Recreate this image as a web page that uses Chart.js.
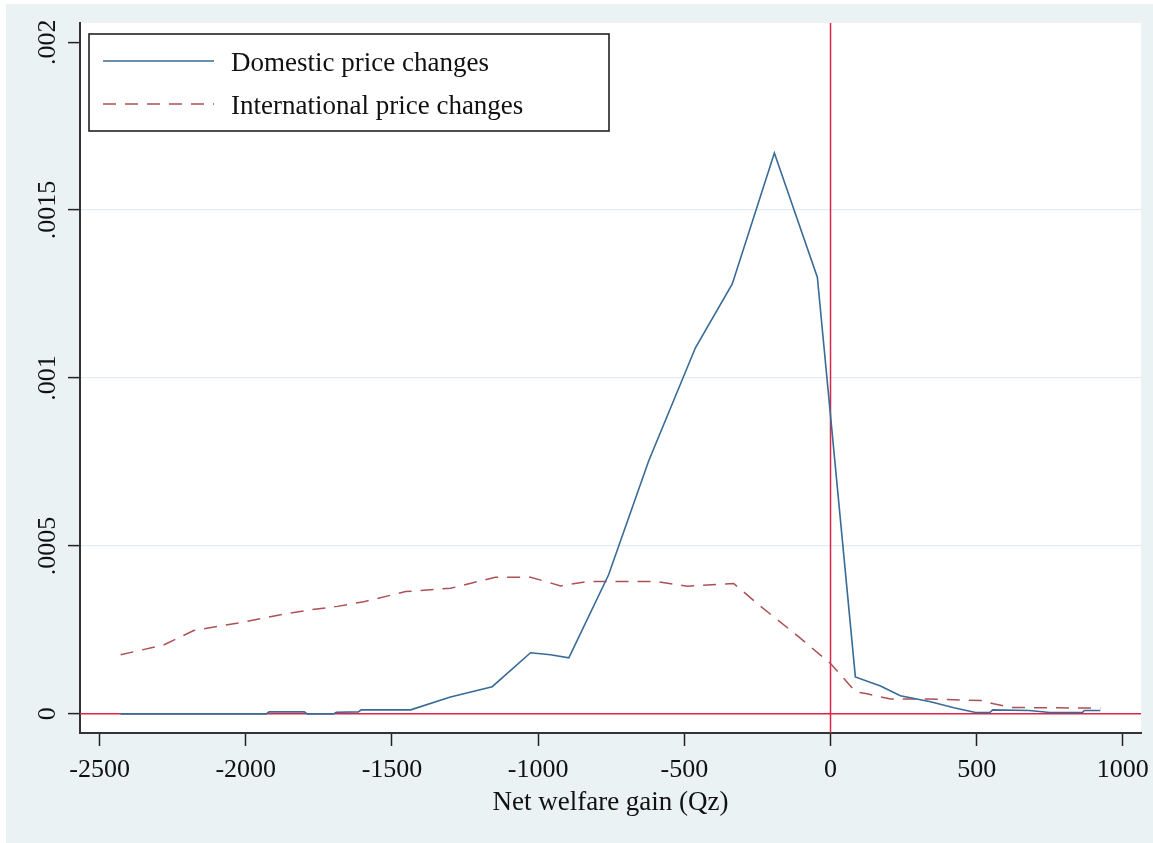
<!DOCTYPE html>
<html lang="en">
<head>
  <meta charset="UTF-8" />
  <title>Net welfare gain densities</title>
  <script src="https://cdn.jsdelivr.net/npm/chart.js"></script>
  <style>
    html, body {
      margin: 0;
      padding: 0;
      background: #ffffff;
      overflow: hidden;
    }
    canvas {
      display: block;
    }
  </style>
</head>
<body>
  <canvas id="welfareChart" width="1153" height="843"></canvas>

  <script>
    // Domestic price changes (solid blue)
    const domesticX = [-2428, -1930, -1920, -1800, -1790, -1700, -1690, -1615, -1605, -1436,
      -1300, -1157, -1026, -958, -895, -759, -622, -462, -336, -192,
      -45, 85, 171, 239, 342, 422, 496, 545, 555, 680,
      750, 862, 868, 923];
    const domesticY = [0, 0, 0.000006, 0.000006, 0, 0, 0.000005, 0.000006, 0.000012, 0.000012,
      0.00005, 0.000081, 0.000182, 0.000176, 0.000167, 0.000414, 0.000753, 0.00109, 0.00128, 0.00167,
      0.0013, 0.00011, 0.000083, 0.000054, 0.000036, 0.000018, 0.000004, 0.000004, 0.000012, 0.00001,
      0.000004, 0.000004, 0.00001, 0.00001];

    // International price changes (dashed red)
    const internationalX = [-2428, -2281, -2178, -2030, -1881, -1778, -1687, -1596, -1453, -1299,
      -1146, -1026, -923, -832, -593, -490, -331, -239, -125, 0,
      85, 125, 205, 331, 513, 558, 616, 923];
    const internationalY = [0.000176, 0.000205, 0.000248, 0.00027, 0.000295, 0.00031, 0.00032, 0.000334, 0.000364, 0.000374,
      0.000407, 0.000407, 0.000381, 0.000394, 0.000394, 0.00038, 0.000388, 0.00032, 0.000241, 0.00015,
      0.000066, 0.00006, 0.000044, 0.000044, 0.00004, 0.00003, 0.000019, 0.000017];

    const xTicks = [-2500, -2000, -1500, -1000, -500, 0, 500, 1000];
    const yTicks = [0, 0.0005, 0.001, 0.0015, 0.002];
    const yTickLabels = ['0', '.0005', '.001', '.0015', '.002'];

    const seriesNames = ['Domestic price changes', 'International price changes'];
    const xTitle = 'Net welfare gain (Qz)';

    // reference lines (xline / yline)
    const refX = 0;
    const refY = 0;

    const BLUE = '#386b97';
    const RED = '#ad5055';
    const REF = '#dc2449';
    const FONT = "'Liberation Serif', 'Times New Roman', serif";

    const toPoints = (xs, ys) => xs.map((x, i) => ({ x: x, y: ys[i] }));

    // outer background + white plot region
    const backgroundPlugin = {
      id: 'stataBackground',
      beforeDraw(chart) {
        const ctx = chart.ctx;
        const a = chart.chartArea;
        ctx.save();
        ctx.fillStyle = '#eaf2f3';
        ctx.fillRect(6, 4, chart.width - 6, chart.height - 4);
        ctx.fillStyle = '#ffffff';
        ctx.fillRect(a.left, a.top, a.right - a.left, a.bottom - a.top);
        ctx.restore();
      }
    };

    // red lines at x = 0 and y = 0, under the data
    const refLinePlugin = {
      id: 'refLines',
      beforeDatasetsDraw(chart) {
        const ctx = chart.ctx;
        const a = chart.chartArea;
        const px = chart.scales.x.getPixelForValue(refX);
        const py = chart.scales.y.getPixelForValue(refY);
        ctx.save();
        ctx.strokeStyle = REF;
        ctx.lineWidth = 1.5;
        ctx.beginPath();
        ctx.moveTo(a.left, py);
        ctx.lineTo(a.right, py);
        ctx.moveTo(px, a.top);
        ctx.lineTo(px, a.bottom);
        ctx.stroke();
        ctx.restore();
      }
    };

    // boxed legend inside the plot, top left
    const boxLegendPlugin = {
      id: 'boxLegend',
      afterDraw(chart) {
        const ctx = chart.ctx;
        const a = chart.chartArea;
        const left = a.left + 9, top = a.top + 11;
        const w = 520, h = 97;
        ctx.save();
        ctx.fillStyle = '#ffffff';
        ctx.fillRect(left, top, w, h);
        ctx.strokeStyle = '#222222';
        ctx.lineWidth = 1.6;
        ctx.strokeRect(left, top, w, h);

        chart.data.datasets.forEach((ds, i) => {
          const y = top + 27 + i * 43;
          ctx.strokeStyle = ds.borderColor;
          ctx.lineWidth = ds.borderWidth;
          ctx.setLineDash(ds.borderDash || []);
          ctx.beginPath();
          ctx.moveTo(left + 14, y);
          ctx.lineTo(left + 125, y);
          ctx.stroke();
          ctx.setLineDash([]);
          ctx.fillStyle = '#111111';
          ctx.font = '27px ' + FONT;
          ctx.textBaseline = 'middle';
          ctx.fillText(ds.label, left + 142, y + 3);
        });
        ctx.restore();
      }
    };

    const ctx = document.getElementById('welfareChart').getContext('2d');
    new Chart(ctx, {
      type: 'line',
      data: {
        datasets: [{
          label: seriesNames[0],
          data: toPoints(domesticX, domesticY),
          borderColor: BLUE,
          borderWidth: 1.6,
          pointRadius: 0,
          tension: 0,
          fill: false
        }, {
          label: seriesNames[1],
          data: toPoints(internationalX, internationalY),
          borderColor: RED,
          borderWidth: 1.5,
          borderDash: [13, 9],
          pointRadius: 0,
          tension: 0,
          fill: false
        }]
      },
      options: {
        responsive: false,
        animation: false,
        layout: {
          padding: { left: 6, top: 23, right: 12, bottom: 0 }
        },
        scales: {
          x: {
            type: 'linear',
            min: -2567,
            max: 1062,
            afterBuildTicks: s => { s.ticks = xTicks.map(v => ({ value: v })); },
            afterFit: s => {
              s.height = 110;
              s.paddingLeft = 0;
              s.paddingRight = 0;
            },
            border: { display: true, color: '#333333', width: 2 },
            grid: {
              drawOnChartArea: false,
              drawTicks: true,
              tickLength: 13,
              tickColor: '#222222',
              tickWidth: 1.5
            },
            ticks: {
              color: '#111111',
              font: { family: FONT, size: 26 },
              padding: 9,
              maxRotation: 0,
              callback: v => String(v)
            },
            title: {
              display: true,
              text: xTitle,
              color: '#111111',
              font: { family: FONT, size: 27 },
              padding: { top: 0, bottom: 24 }
            }
          },
          y: {
            type: 'linear',
            min: -0.000057,
            max: 0.002057,
            afterBuildTicks: s => { s.ticks = yTicks.map(v => ({ value: v })); },
            afterFit: s => {
              s.width = 74;
              s.paddingTop = 0;
              s.paddingBottom = 0;
            },
            border: { display: true, color: '#333333', width: 2 },
            grid: {
              color: c => (c.tick && (c.tick.value === 0 || c.tick.value === 0.002)) ? 'rgba(0,0,0,0)' : '#e3edef',
              lineWidth: 1.2,
              drawTicks: true,
              tickLength: 12,
              tickColor: '#222222',
              tickWidth: 1.5
            },
            ticks: {
              color: '#111111',
              font: { family: FONT, size: 26 },
              minRotation: 90,
              maxRotation: 90,
              crossAlign: 'center',
              padding: -9,
              callback: v => yTickLabels[yTicks.indexOf(v)]
            }
          }
        },
        plugins: {
          legend: { display: false },
          tooltip: { enabled: false }
        }
      },
      plugins: [backgroundPlugin, refLinePlugin, boxLegendPlugin]
    });
  </script>
</body>
</html>
